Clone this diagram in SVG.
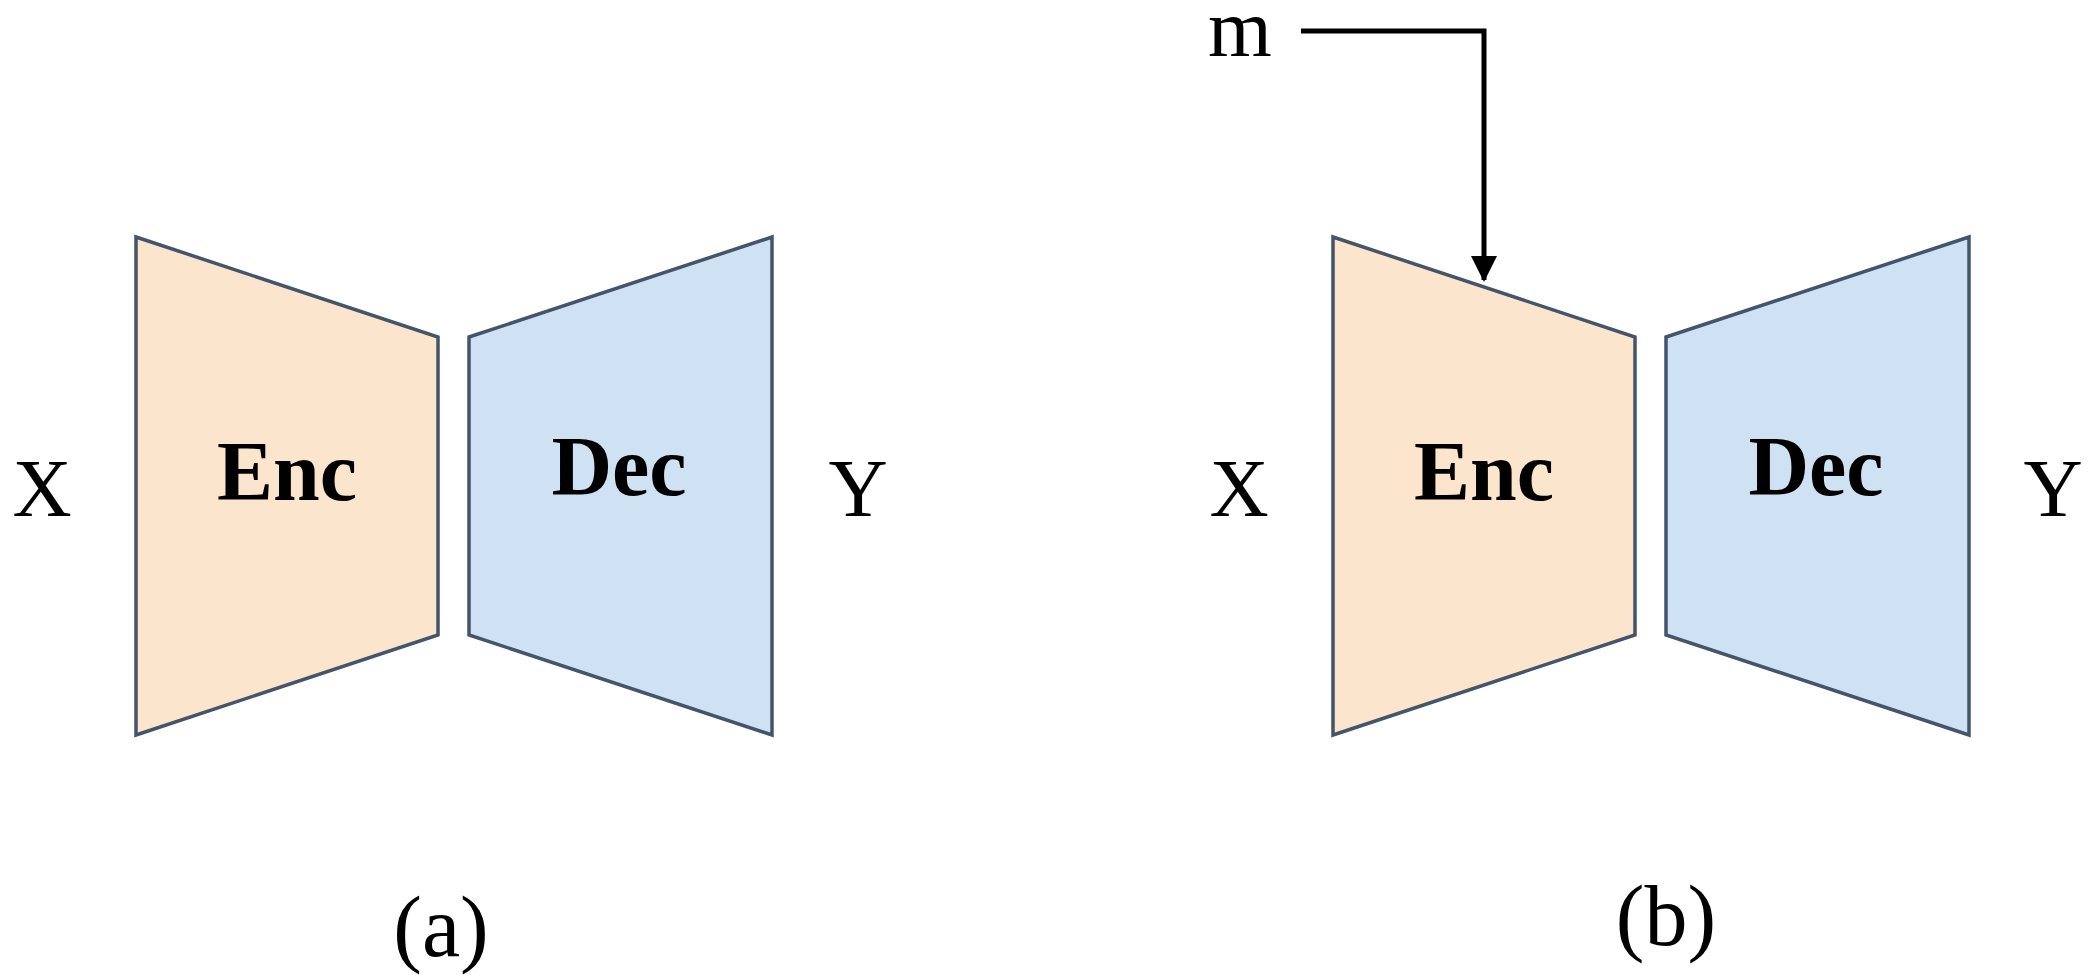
<svg xmlns="http://www.w3.org/2000/svg" width="2088" height="979" viewBox="0 0 2088 979">
<defs>
<style>
.enc{fill:#FCE5CD;stroke:#44546A;stroke-width:3.5;stroke-linejoin:miter}
.dec{fill:#CFE2F3;stroke:#44546A;stroke-width:3.5;stroke-linejoin:miter}
.lbl{font-family:"Liberation Serif","Times New Roman",serif;font-weight:bold;font-size:84px;fill:#000;text-anchor:middle}
.var{font-family:"Liberation Serif","Times New Roman",serif;font-size:82px;fill:#000;text-anchor:middle}
.cap{font-family:"Liberation Serif","Times New Roman",serif;font-size:86px;fill:#000;text-anchor:middle}
.conn{fill:none;stroke:#000;stroke-width:5}
</style>
<marker id="arrow" markerWidth="26" markerHeight="26" refX="24" refY="13" orient="auto" markerUnits="userSpaceOnUse">
<path d="M0,0 L26,13 L0,26 Z" fill="#000"/>
</marker>
</defs>
<rect width="2088" height="979" fill="#fff"/>
<g id="enc-a">
<polygon class="enc" points="136,237 438,337 438,635 136,735"/>
<text class="lbl" x="287" y="500">Enc</text>
</g>
<g id="dec-a">
<polygon class="dec" points="469,337 772,237 772,735 469,635"/>
<text class="lbl" x="619" y="495">Dec</text>
</g>
<g id="x-a"><text class="var" x="42" y="516">X</text></g>
<g id="y-a"><text class="var" x="858" y="516">Y</text></g>
<g id="cap-a"><text class="cap" x="441" y="956">(a)</text></g>
<g id="enc-b">
<polygon class="enc" points="1333,237 1635,337 1635,635 1333,735"/>
<text class="lbl" x="1484" y="500">Enc</text>
</g>
<g id="dec-b">
<polygon class="dec" points="1666,337 1969,237 1969,735 1666,635"/>
<text class="lbl" x="1816" y="495">Dec</text>
</g>
<g id="x-b"><text class="var" x="1239" y="516">X</text></g>
<g id="y-b"><text class="var" x="2053" y="516">Y</text></g>
<g id="m-b"><text class="var" x="1240" y="56">m</text></g>
<g id="cap-b"><text class="cap" x="1666" y="945">(b)</text></g>
<g id="connectors">
<path class="conn" d="M1301,31 H1484 V280" marker-end="url(#arrow)"/>
</g>
</svg>
